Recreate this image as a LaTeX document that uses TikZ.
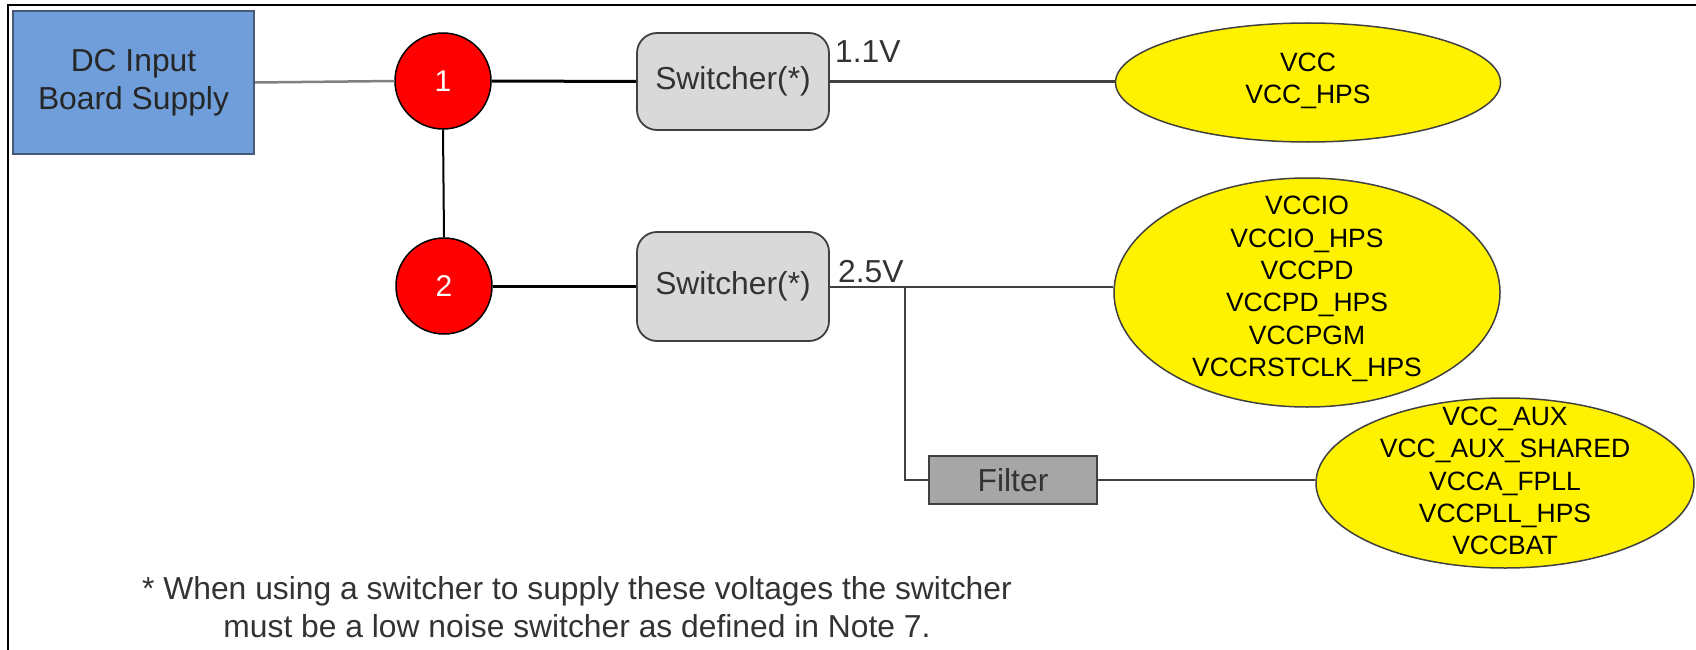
\documentclass[tikz,border=0pt]{standalone}
\usepackage{fontspec}
\setmainfont{Liberation Sans}
\usetikzlibrary{shapes.geometric}
\definecolor{dcblue}{RGB}{111,158,218}
\definecolor{dcborder}{RGB}{70,90,120}
\definecolor{swgray}{RGB}{217,217,217}
\definecolor{fgray}{RGB}{166,166,166}
\definecolor{edgegray}{RGB}{64,64,64}
\definecolor{txtgray}{RGB}{51,51,51}
\tikzset{
  boxtext/.style={font=\fontsize{31.8}{38}\selectfont},
  elltext/.style={font=\fontsize{26.5}{32.3}\selectfont, text=black, align=center, inner sep=0pt},
  dcbox/.style={draw=dcborder, line width=2pt, fill=dcblue, minimum width=241, minimum height=143, inner sep=0pt, align=center, boxtext, text=black!85},
  node circ/.style={circle, draw=black, line width=1.5pt, fill=red, minimum size=96, inner sep=0pt, text=white, font=\fontsize{30}{36}\selectfont},
  swbox/.style={draw=edgegray, line width=1.8pt, fill=swgray, rounded corners=20, inner sep=0pt, boxtext, text=txtgray},
  filterbox/.style={draw=edgegray, line width=1.8pt, fill=fgray, minimum width=168, minimum height=48, inner sep=0pt, boxtext, text=txtgray},
  railell/.style={ellipse, draw=edgegray, line width=1.5pt, fill=yellow, inner sep=0pt},
  wire/.style={draw=edgegray, line width=2.5pt},
  thickwire/.style={draw=black, line width=3pt},
  lightwire/.style={draw=gray, line width=2.5pt},
  volt/.style={boxtext, text=txtgray, inner sep=0pt, anchor=base west},
  note/.style={boxtext, text=txtgray, align=center, inner sep=0pt}
}
\begin{document}
\begin{tikzpicture}[x=1pt,y=-1pt]
\useasboundingbox (0,0) rectangle (1696,650);
% frame
\draw[black, line width=2.5pt] (8,650) -- (8,5) -- (1696,5);

\node[dcbox] (dc) at (133.5,82.5) {DC Input\\Board Supply};
\node[node circ] (c1) at (443,81) {1};
\node[node circ] (c2) at (444,286) {2};
\node[swbox, minimum width=192, minimum height=97] (s1) at (733,81.5) {Switcher(*)};
\node[swbox, minimum width=192, minimum height=109] (s2) at (733,286.5) {Switcher(*)};
\node[filterbox] (f) at (1013,480) {Filter};

\node[railell, minimum width=385, minimum height=119] (e1) at (1308,82.5) {};
\node[elltext] (e1t) at (1308,81) {VCC\\VCC\_HPS};
\node[railell, minimum width=386, minimum height=229] (e2) at (1307,292.5) {};
\node[elltext] (e2t) at (1307,289) {VCCIO\\VCCIO\_HPS\\VCCPD\\VCCPD\_HPS\\VCCPGM\\VCCRSTCLK\_HPS};
\node[railell, minimum width=378, minimum height=170] (e3) at (1505,483) {};
\node[elltext] (e3t) at (1505,481) {VCC\_AUX\\VCC\_AUX\_SHARED\\VCCA\_FPLL\\VCCPLL\_HPS\\VCCBAT};

\node[volt] (v1) at (835,63) {1.1V};
\node[volt] (v2) at (838,282) {2.5V};

\node[note] (n) at (577,607) {* When using a switcher to supply these voltages the switcher\\must be a low noise switcher as defined in Note 7.};

% connectors
\draw[lightwire] (dc.east) -- (c1.west);
\draw[thickwire] (c1.east) -- (s1.west);
\draw[draw=black, line width=2pt] (c1.south) -- (c2.north);
\draw[thickwire] (c2.east) -- (s2.west |- c2.east);
\draw[wire] (s1.east) -- (e1.west |- s1.east);
\draw[wire] (s2.east |- 0,287) -- (e2.west |- 0,287);
\coordinate (j) at (905,287);
\draw[wire] (j) |- (f.west);
\draw[wire] (f.east) -- (e3.west |- f.east);
\end{tikzpicture}
\end{document}
